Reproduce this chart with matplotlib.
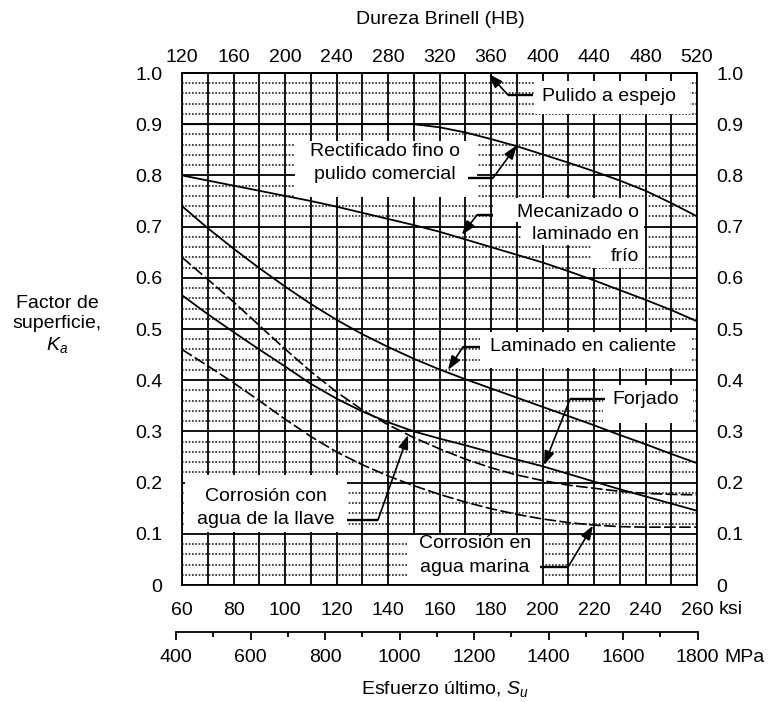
import matplotlib
matplotlib.use('Agg')
import matplotlib.pyplot as plt
from matplotlib.patches import Rectangle
import numpy as np

plt.rcParams['font.family'] = ['Liberation Sans', 'DejaVu Sans']
plt.rcParams['mathtext.fontset'] = 'custom'
plt.rcParams['mathtext.rm'] = 'Liberation Sans'
plt.rcParams['mathtext.it'] = 'Liberation Sans:italic'

# ---------------- data ----------------
ksi = [60, 70, 80, 90, 100, 110, 120, 130, 140, 150, 160,
       170, 180, 190, 200, 210, 220, 230, 240, 250, 260]
pulido_espejo = [1.0, 1.0, 1.0, 1.0, 1.0, 1.0, 1.0, 1.0, 1.0, 1.0, 1.0,
                 1.0, 1.0, 1.0, 1.0, 1.0, 1.0, 1.0, 1.0, 1.0, 1.0]
rectificado = [0.90, 0.90, 0.90, 0.90, 0.90, 0.90, 0.90, 0.90, 0.90, 0.90, 0.894,
               0.884, 0.871, 0.857, 0.841, 0.825, 0.808, 0.790, 0.770, 0.746, 0.720]
mecanizado = [0.800, 0.790, 0.780, 0.770, 0.760, 0.750, 0.739, 0.727, 0.715, 0.703, 0.690,
              0.675, 0.660, 0.645, 0.630, 0.613, 0.595, 0.576, 0.557, 0.537, 0.515]
caliente = [0.740, 0.697, 0.657, 0.619, 0.583, 0.549, 0.518, 0.490, 0.465, 0.442, 0.421,
            0.402, 0.384, 0.366, 0.348, 0.330, 0.312, 0.293, 0.275, 0.256, 0.238]
forjado = [0.566, 0.529, 0.494, 0.460, 0.427, 0.393, 0.364, 0.339, 0.318, 0.300, 0.286,
           0.273, 0.259, 0.245, 0.232, 0.217, 0.202, 0.187, 0.173, 0.159, 0.145]
agua_llave = [0.640, 0.597, 0.553, 0.507, 0.461, 0.417, 0.377, 0.342, 0.313, 0.288, 0.266,
              0.246, 0.229, 0.215, 0.204, 0.195, 0.189, 0.183, 0.179, 0.177, 0.176]
agua_marina = [0.460, 0.428, 0.395, 0.360, 0.324, 0.290, 0.260, 0.235, 0.213, 0.194, 0.177,
               0.162, 0.149, 0.138, 0.129, 0.122, 0.117, 0.114, 0.113, 0.113, 0.113]

ksi_ticks = [60, 80, 100, 120, 140, 160, 180, 200, 220, 240, 260]
ksi_labels = ['60', '80', '100', '120', '140', '160', '180', '200', '220', '240', '260']
hb_ticks = [120, 160, 200, 240, 280, 320, 360, 400, 440, 480, 520]
mpa_ticks = [400, 600, 800, 1000, 1200, 1400, 1600, 1800]
ka_ticks = [0.0, 0.1, 0.2, 0.3, 0.4, 0.5, 0.6, 0.7, 0.8, 0.9, 1.0]
ka_labels = ['0', '0.1', '0.2', '0.3', '0.4', '0.5', '0.6', '0.7', '0.8', '0.9', '1.0']

FS = 14
W, H = 773, 702
fig = plt.figure(figsize=(W / 100, H / 100), dpi=100)
ax = fig.add_axes([182 / W, (H - 585) / H, 515 / W, 512 / H])
ax.set_xlim(60, 260)
ax.set_ylim(0, 1)

# grid
ax.set_xticks(ksi_ticks)
ax.set_xticklabels(ksi_labels, fontsize=FS)
ax.set_xticks(np.arange(70, 260, 20), minor=True)
ax.set_yticks(ka_ticks)
ax.set_yticklabels(ka_labels, fontsize=FS)
ax.set_yticks([v for v in np.arange(0.02, 1.0, 0.02) if abs(v * 10 - round(v * 10)) > 1e-6], minor=True)
ax.grid(axis='x', which='both', color='black', lw=1.3)
ax.grid(axis='y', which='major', color='black', lw=1.3)
ax.grid(axis='y', which='minor', color='#222222', lw=1.2, ls=(0, (1, 1)))
ax.set_axisbelow(True)
ax.tick_params(axis='both', which='both', length=0)
ax.tick_params(axis='x', pad=12)
ax.tick_params(axis='y', labelright=True, pad=14)
for s in ax.spines.values():
    s.set_linewidth(1.3)

# curves
lw = 1.3
ax.plot(ksi, pulido_espejo, color='black', lw=lw, zorder=3, clip_on=False)
ax.plot(ksi, rectificado, color='black', lw=lw, zorder=3)
ax.plot(ksi, mecanizado, color='black', lw=lw, zorder=3)
ax.plot(ksi, caliente, color='black', lw=lw, zorder=3)
ax.plot(ksi, forjado, color='black', lw=lw, zorder=3)
ax.plot(ksi, agua_llave, color='black', lw=1.2, ls=(0, (7, 2)), zorder=3)
ax.plot(ksi, agua_marina, color='black', lw=1.2, ls=(0, (7, 2)), zorder=3)

# white label boxes
def box(x0, x1, y0, y1):
    ax.add_patch(Rectangle((x0, y0), x1 - x0, y1 - y0, facecolor='white',
                           edgecolor='none', zorder=2))

box(196.7, 257.3, 0.920, 0.984)
box(103.9, 174.6, 0.758, 0.867)
box(180.8, 239.6, 0.709, 0.756)
box(191.7, 239.6, 0.664, 0.709)
box(219.2, 239.6, 0.619, 0.664)
box(175.7, 258.1, 0.424, 0.494)
box(223.5, 258.4, 0.316, 0.391)
box(61.2, 124.1, 0.104, 0.215)
box(147.4, 199.8, 0.001, 0.098)

# texts
tkw = dict(fontsize=FS, zorder=5, va='center')
ax.text(225.8, 0.955, 'Pulido a espejo', ha='center', **tkw)
ax.text(138.8, 0.846, 'Rectificado fino o', ha='center', **tkw)
ax.text(138.8, 0.801, 'pulido comercial', ha='center', **tkw)
ax.text(237.4, 0.727, 'Mecanizado o', ha='right', **tkw)
ax.text(237.4, 0.684, 'laminado en', ha='right', **tkw)
ax.text(237.4, 0.641, 'frío', ha='right', **tkw)
ax.text(215.9, 0.465, 'Laminado en caliente', ha='center', **tkw)
ax.text(240.2, 0.363, 'Forjado', ha='center', **tkw)
ax.text(92.6, 0.172, 'Corrosión con', ha='center', **tkw)
ax.text(92.6, 0.127, 'agua de la llave', ha='center', **tkw)
ax.text(173.8, 0.082, 'Corrosión en', ha='center', **tkw)
ax.text(173.8, 0.035, 'agua marina', ha='center', **tkw)

# leader arrows
def leader(start, bend, tip):
    ax.plot([start[0], bend[0]], [start[1], bend[1]], color='black', lw=1.7,
            zorder=5, solid_capstyle='butt')
    ax.annotate('', xy=tip, xytext=bend,
                arrowprops=dict(arrowstyle='-|>,head_length=0.7,head_width=0.25',
                                mutation_scale=12, color='black', lw=1.2,
                                shrinkA=0, shrinkB=0),
                zorder=5, annotation_clip=False)

leader((196.3, 0.957), (186.6, 0.957), (179.2, 0.998))
leader((171.1, 0.795), (180.8, 0.795), (190.1, 0.859))
leader((180.8, 0.723), (174.6, 0.723), (168.7, 0.684))
leader((175.7, 0.465), (169.1, 0.465), (163.3, 0.420))
leader((224.3, 0.363), (210.7, 0.363), (200.6, 0.234))
leader((124.1, 0.127), (136.1, 0.127), (147.8, 0.293))
leader((199.0, 0.035), (209.9, 0.035), (219.6, 0.116))

# top Brinell axis
ax_top = ax.twiny()
ax_top.set_xlim(120, 520)
ax_top.set_xticks(hb_ticks)
ax_top.set_xticklabels([str(v) for v in hb_ticks], fontsize=FS)
ax_top.tick_params(axis='x', length=0, pad=5)
for s in ax_top.spines.values():
    s.set_visible(False)

# MPa axis
ax_m = fig.add_axes([176 / W, (H - 632) / H, 521.7 / W, 0.0001])
ax_m.set_xlim(400, 1800)
ax_m.set_xticks(mpa_ticks)
ax_m.set_xticklabels([str(v) for v in mpa_ticks], fontsize=FS)
ax_m.set_xticks(np.arange(500, 1800, 200), minor=True)
ax_m.set_yticks([])
for k in ('top', 'left', 'right'):
    ax_m.spines[k].set_visible(False)
ax_m.spines['bottom'].set_linewidth(1.3)
ax_m.tick_params(axis='x', which='major', direction='out', length=6, width=1.3, pad=6)
ax_m.tick_params(axis='x', which='minor', direction='out', length=3.5, width=1.3)
ax_m.patch.set_visible(False)

# unit and axis titles
fig.text(719 / W, 1 - 609 / H, 'ksi', fontsize=FS, ha='left', va='center')
fig.text(724 / W, 1 - 658 / H, 'MPa', fontsize=FS, ha='left', va='center')
fig.text(445 / W, 1 - 689 / H, 'Esfuerzo último, $S_u$', fontsize=FS, ha='center', va='center')
fig.text(440 / W, 1 - 19 / H, 'Dureza Brinell (HB)', fontsize=FS, ha='center', va='center')
fig.text(57 / W, 1 - 325 / H, 'Factor de\nsuperficie,\n$K_a$', fontsize=FS,
         ha='center', va='center', linespacing=1.2)

fig.savefig('out.png', dpi=100)
